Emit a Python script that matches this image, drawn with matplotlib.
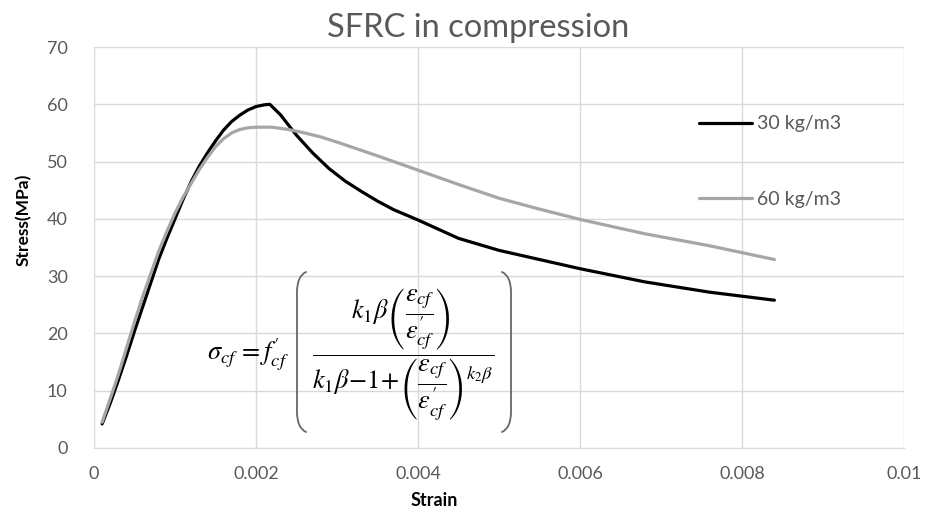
import matplotlib
matplotlib.use("Agg")
import matplotlib.pyplot as plt
from matplotlib.path import Path
from matplotlib.patches import PathPatch

# ---- data ----
strain_30 = [0.0001, 0.0002, 0.0003, 0.0004, 0.0005, 0.0006, 0.0007, 0.0008, 0.0009,
             0.0010, 0.0011, 0.0012, 0.0013, 0.0014, 0.0015, 0.0016, 0.0017,
             0.0018, 0.0019, 0.0020, 0.0021, 0.00217, 0.0023, 0.0025, 0.0027,
             0.0029, 0.0031, 0.0033, 0.0035, 0.0037, 0.0040, 0.0045, 0.0050,
             0.0055, 0.0060, 0.0068, 0.0076, 0.0084]
stress_30 = [4.2, 7.8, 11.8, 16.0, 20.4, 24.6, 28.8, 33.0, 36.6,
             40.0, 43.4, 46.5, 49.2, 51.5, 53.6, 55.5, 57.0,
             58.1, 59.0, 59.6, 59.9, 60.0, 58.2, 54.6, 51.5,
             48.8, 46.6, 44.8, 43.1, 41.6, 39.8, 36.6, 34.5,
             32.9, 31.3, 29.0, 27.2, 25.8]

strain_60 = [0.0001, 0.0002, 0.0003, 0.0004, 0.0005, 0.0006, 0.0007, 0.0008, 0.0009,
             0.0010, 0.0011, 0.0012, 0.0013, 0.0014, 0.0015, 0.0016, 0.0017,
             0.0018, 0.0019, 0.0020, 0.0022, 0.0024, 0.0026, 0.0028, 0.0030,
             0.0035, 0.0040, 0.0045, 0.0050, 0.0055, 0.0060, 0.0068, 0.0076, 0.0084]
stress_60 = [4.5, 8.6, 12.8, 17.4, 22.0, 26.4, 30.4, 34.4, 37.8,
             41.0, 43.8, 46.2, 48.6, 50.7, 52.6, 54.0, 55.0,
             55.6, 55.9, 56.0, 56.0, 55.6, 55.0, 54.3, 53.4,
             51.0, 48.5, 46.0, 43.6, 41.7, 39.9, 37.4, 35.3, 32.9]

series_labels = ["30 kg/m3", "60 kg/m3"]
x_ticks = [0, 0.002, 0.004, 0.006, 0.008, 0.01]
x_tick_labels = ["0", "0.002", "0.004", "0.006", "0.008", "0.01"]
y_ticks = [0, 10, 20, 30, 40, 50, 60, 70]

title = "SFRC in compression"
x_label = "Strain"
y_label = "Stress(MPa)"

plt.rcParams['font.family'] = ['Lato', 'DejaVu Sans']
plt.rcParams['mathtext.fontset'] = 'stix'

W, H = 930, 525
fig = plt.figure(figsize=(W / 100, H / 100), dpi=100)
ax = fig.add_axes([94 / W, 1 - 448 / H, (904 - 94) / W, (448 - 47) / H])


def fx(px):
    return px / W


def fy(py):
    return 1 - py / H


ax.plot(strain_30, stress_30, color="black", lw=2.3, label=series_labels[0],
        solid_joinstyle="round", solid_capstyle="round", zorder=3)
ax.plot(strain_60, stress_60, color="#a6a6a6", lw=2.3, label=series_labels[1],
        solid_joinstyle="round", solid_capstyle="round", zorder=4)

ax.set_xlim(0, 0.01)
ax.set_ylim(0, 70)
ax.set_xticks(x_ticks)
ax.set_xticklabels(x_tick_labels)
ax.set_yticks(y_ticks)
ax.grid(True, color="#d9d9d9", lw=1)
ax.set_axisbelow(True)
for s in ["top", "right", "left"]:
    ax.spines[s].set_visible(False)
ax.spines["bottom"].set_color("#d9d9d9")
ax.tick_params(axis="both", length=0, labelsize=13, colors="#595959")
ax.tick_params(axis="x", pad=13)
ax.tick_params(axis="y", pad=19)

fig.text(fx(478), fy(28), title, fontsize=23.5, color="#595959",
         ha="center", va="center")
fig.text(fx(434), fy(501), x_label, fontsize=13, fontweight="bold",
         ha="center", va="center")
fig.text(fx(24), fy(220), y_label, fontsize=12.5, fontweight="bold",
         ha="center", va="center", rotation=90)

leg = ax.legend(loc="center left", bbox_to_anchor=(fx(699), fy(161.5)),
                bbox_transform=fig.transFigure, frameon=False, fontsize=14,
                handlelength=2.75, handletextpad=0.25, labelspacing=3.0,
                borderpad=0, borderaxespad=0, labelcolor="#595959")

# ---- formula ----
lhs = r'$\sigma_{cf}\,=f^{\prime}_{cf}$'
frac = (r'$\dfrac{k_1\beta\left(\dfrac{\varepsilon_{cf}}{\varepsilon^{\prime}_{cf}}\right)}'
        r'{k_1\beta\!-\!1\!+\!\left(\dfrac{\varepsilon_{cf}}{\varepsilon^{\prime}_{cf}}\right)^{k_2\beta}}$')
fig.text(fx(289), fy(355), lhs, fontsize=19, ha="right", va="center")
fig.text(fx(403), fy(354), frac, fontsize=19, ha="center", va="center")

# thin tall outer brackets of the formula
def bracket(x_edge, top, bottom, curl, flip):
    s = -1 if flip else 1
    verts = [(x_edge + s * curl, top), (x_edge, top + 4), (x_edge, top + 20),
             (x_edge, bottom - 20), (x_edge, bottom - 4), (x_edge + s * curl, bottom)]
    codes = [Path.MOVETO, Path.CURVE3, Path.CURVE3, Path.LINETO, Path.CURVE3, Path.CURVE3]
    verts = [(fx(a), fy(b)) for a, b in verts]
    fig.add_artist(PathPatch(Path(verts, codes), fill=False, lw=1.3,
                             edgecolor="#6f655c", transform=fig.transFigure,
                             capstyle="round"))


bracket(297, 272, 432, 9, False)
bracket(511, 272, 432, 9, True)

fig.savefig("out.png", dpi=100)
